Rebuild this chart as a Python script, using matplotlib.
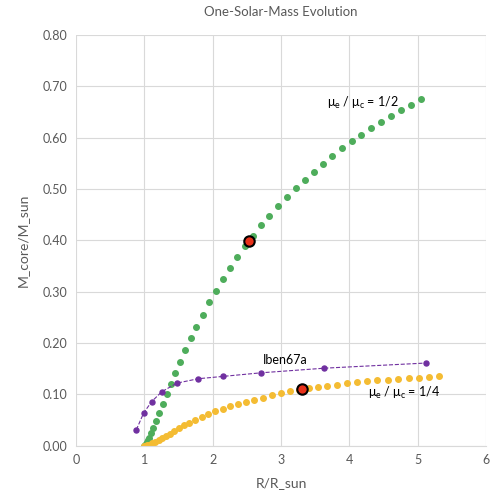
import matplotlib
matplotlib.use("Agg")
import matplotlib.pyplot as plt

plt.rcParams["font.family"] = ["Lato", "DejaVu Sans"]

# mu_e / mu_c = 1/2 track
green_r = [1.0, 1.01, 1.02, 1.035, 1.05, 1.064, 1.098, 1.132, 1.171, 1.220, 1.274,
           1.327, 1.386, 1.454, 1.523, 1.600, 1.684, 1.761, 1.855, 1.952, 2.050,
           2.152, 2.255, 2.362, 2.474, 2.596, 2.709, 2.830, 2.958, 3.084, 3.216,
           3.348, 3.480, 3.616, 3.753, 3.895, 4.036, 4.173, 4.319, 4.461, 4.607,
           4.754, 4.900, 5.047]
green_m = [0.0, 0.002, 0.004, 0.007, 0.011, 0.0156, 0.024, 0.035, 0.048, 0.0636, 0.0806,
           0.100, 0.1195, 0.141, 0.163, 0.186, 0.209, 0.232, 0.255, 0.279, 0.301,
           0.324, 0.346, 0.368, 0.389, 0.409, 0.429, 0.447, 0.466, 0.484, 0.501,
           0.518, 0.534, 0.549, 0.564, 0.579, 0.593, 0.606, 0.618, 0.630, 0.642,
           0.653, 0.664, 0.675]

# mu_e / mu_c = 1/4 track
yellow_r = [1.0, 1.035, 1.073, 1.113, 1.161, 1.210, 1.259, 1.318, 1.376, 1.439,
            1.508, 1.581, 1.659, 1.747, 1.840, 1.937, 2.040, 2.148, 2.260, 2.372,
            2.489, 2.611, 2.733, 2.870, 3.000, 3.128, 3.265, 3.407, 3.539, 3.680,
            3.821, 3.968, 4.114, 4.260, 4.407, 4.563, 4.714, 4.866, 5.017, 5.168,
            5.319]
yellow_m = [0.0, 0.0005, 0.002, 0.0047, 0.0072, 0.0105, 0.0144, 0.0189, 0.0234, 0.0286,
            0.0339, 0.0397, 0.0448, 0.0507, 0.056, 0.061, 0.067, 0.072, 0.0767, 0.0812,
            0.0857, 0.0896, 0.0935, 0.098, 0.102, 0.106, 0.108, 0.113, 0.115, 0.117,
            0.119, 0.1215, 0.1235, 0.1254, 0.1274, 0.1286, 0.130, 0.1312, 0.1325, 0.1338,
            0.135]

# Iben 1967 model
iben_r = [0.883, 0.991, 1.108, 1.254, 1.479, 1.791, 2.152, 2.709, 3.636, 5.12]
iben_m = [0.031, 0.064, 0.086, 0.105, 0.122, 0.1305, 0.135, 0.142, 0.151, 0.161]

# highlighted points
mark_r = [2.533, 3.309]
mark_m = [0.399, 0.110]

fig = plt.figure(figsize=(5, 5), dpi=100)
ax = fig.add_axes([0.152, 0.1086, 0.82, 0.8214])

gray = "#595959"
ax.plot(iben_r, iben_m, color="#7030A0", ls="--", lw=0.8, marker="o", ms=3.6, zorder=3)
ax.plot(green_r, green_m, ls="none", marker="o", ms=4.0, color="#4EAD5B", zorder=2)
ax.plot(yellow_r, yellow_m, ls="none", marker="o", ms=4.0, color="#F4BC33", zorder=2)
ax.plot(mark_r, mark_m, ls="none", marker="o", ms=7.5, color="#E8311A",
        markeredgecolor="black", markeredgewidth=1.5, zorder=4)

ax.text(3.67, 0.667, r"$\mathregular{\mu_e}$ / $\mathregular{\mu_c}$ = 1/2", fontsize=9, va="center")
ax.text(4.27, 0.102, r"$\mathregular{\mu_e}$ / $\mathregular{\mu_c}$ = 1/4", fontsize=9, va="center")
ax.text(2.73, 0.166, "Iben67a", fontsize=9, va="center")

ax.set_xlim(0, 6)
ax.set_ylim(0, 0.8)
ax.set_xticks(range(0, 7))
ax.set_yticks([i / 10 for i in range(9)])
ax.set_yticklabels([f"{i / 10:.2f}" for i in range(9)])
ax.grid(True, color="#D9D9D9", lw=0.8)
ax.set_axisbelow(True)
for s in ["top", "right", "left"]:
    ax.spines[s].set_visible(False)
ax.spines["bottom"].set_color("#D9D9D9")
ax.tick_params(length=0, colors=gray, labelsize=9, pad=6)

ax.set_xlabel("R/R_sun", color=gray, fontsize=10, labelpad=8)
ax.set_ylabel("M_core/M_sun", color=gray, fontsize=10, labelpad=10)
ax.set_title("One-Solar-Mass Evolution", color=gray, fontsize=9.5, pad=14)

fig.savefig("out.png", dpi=100)
